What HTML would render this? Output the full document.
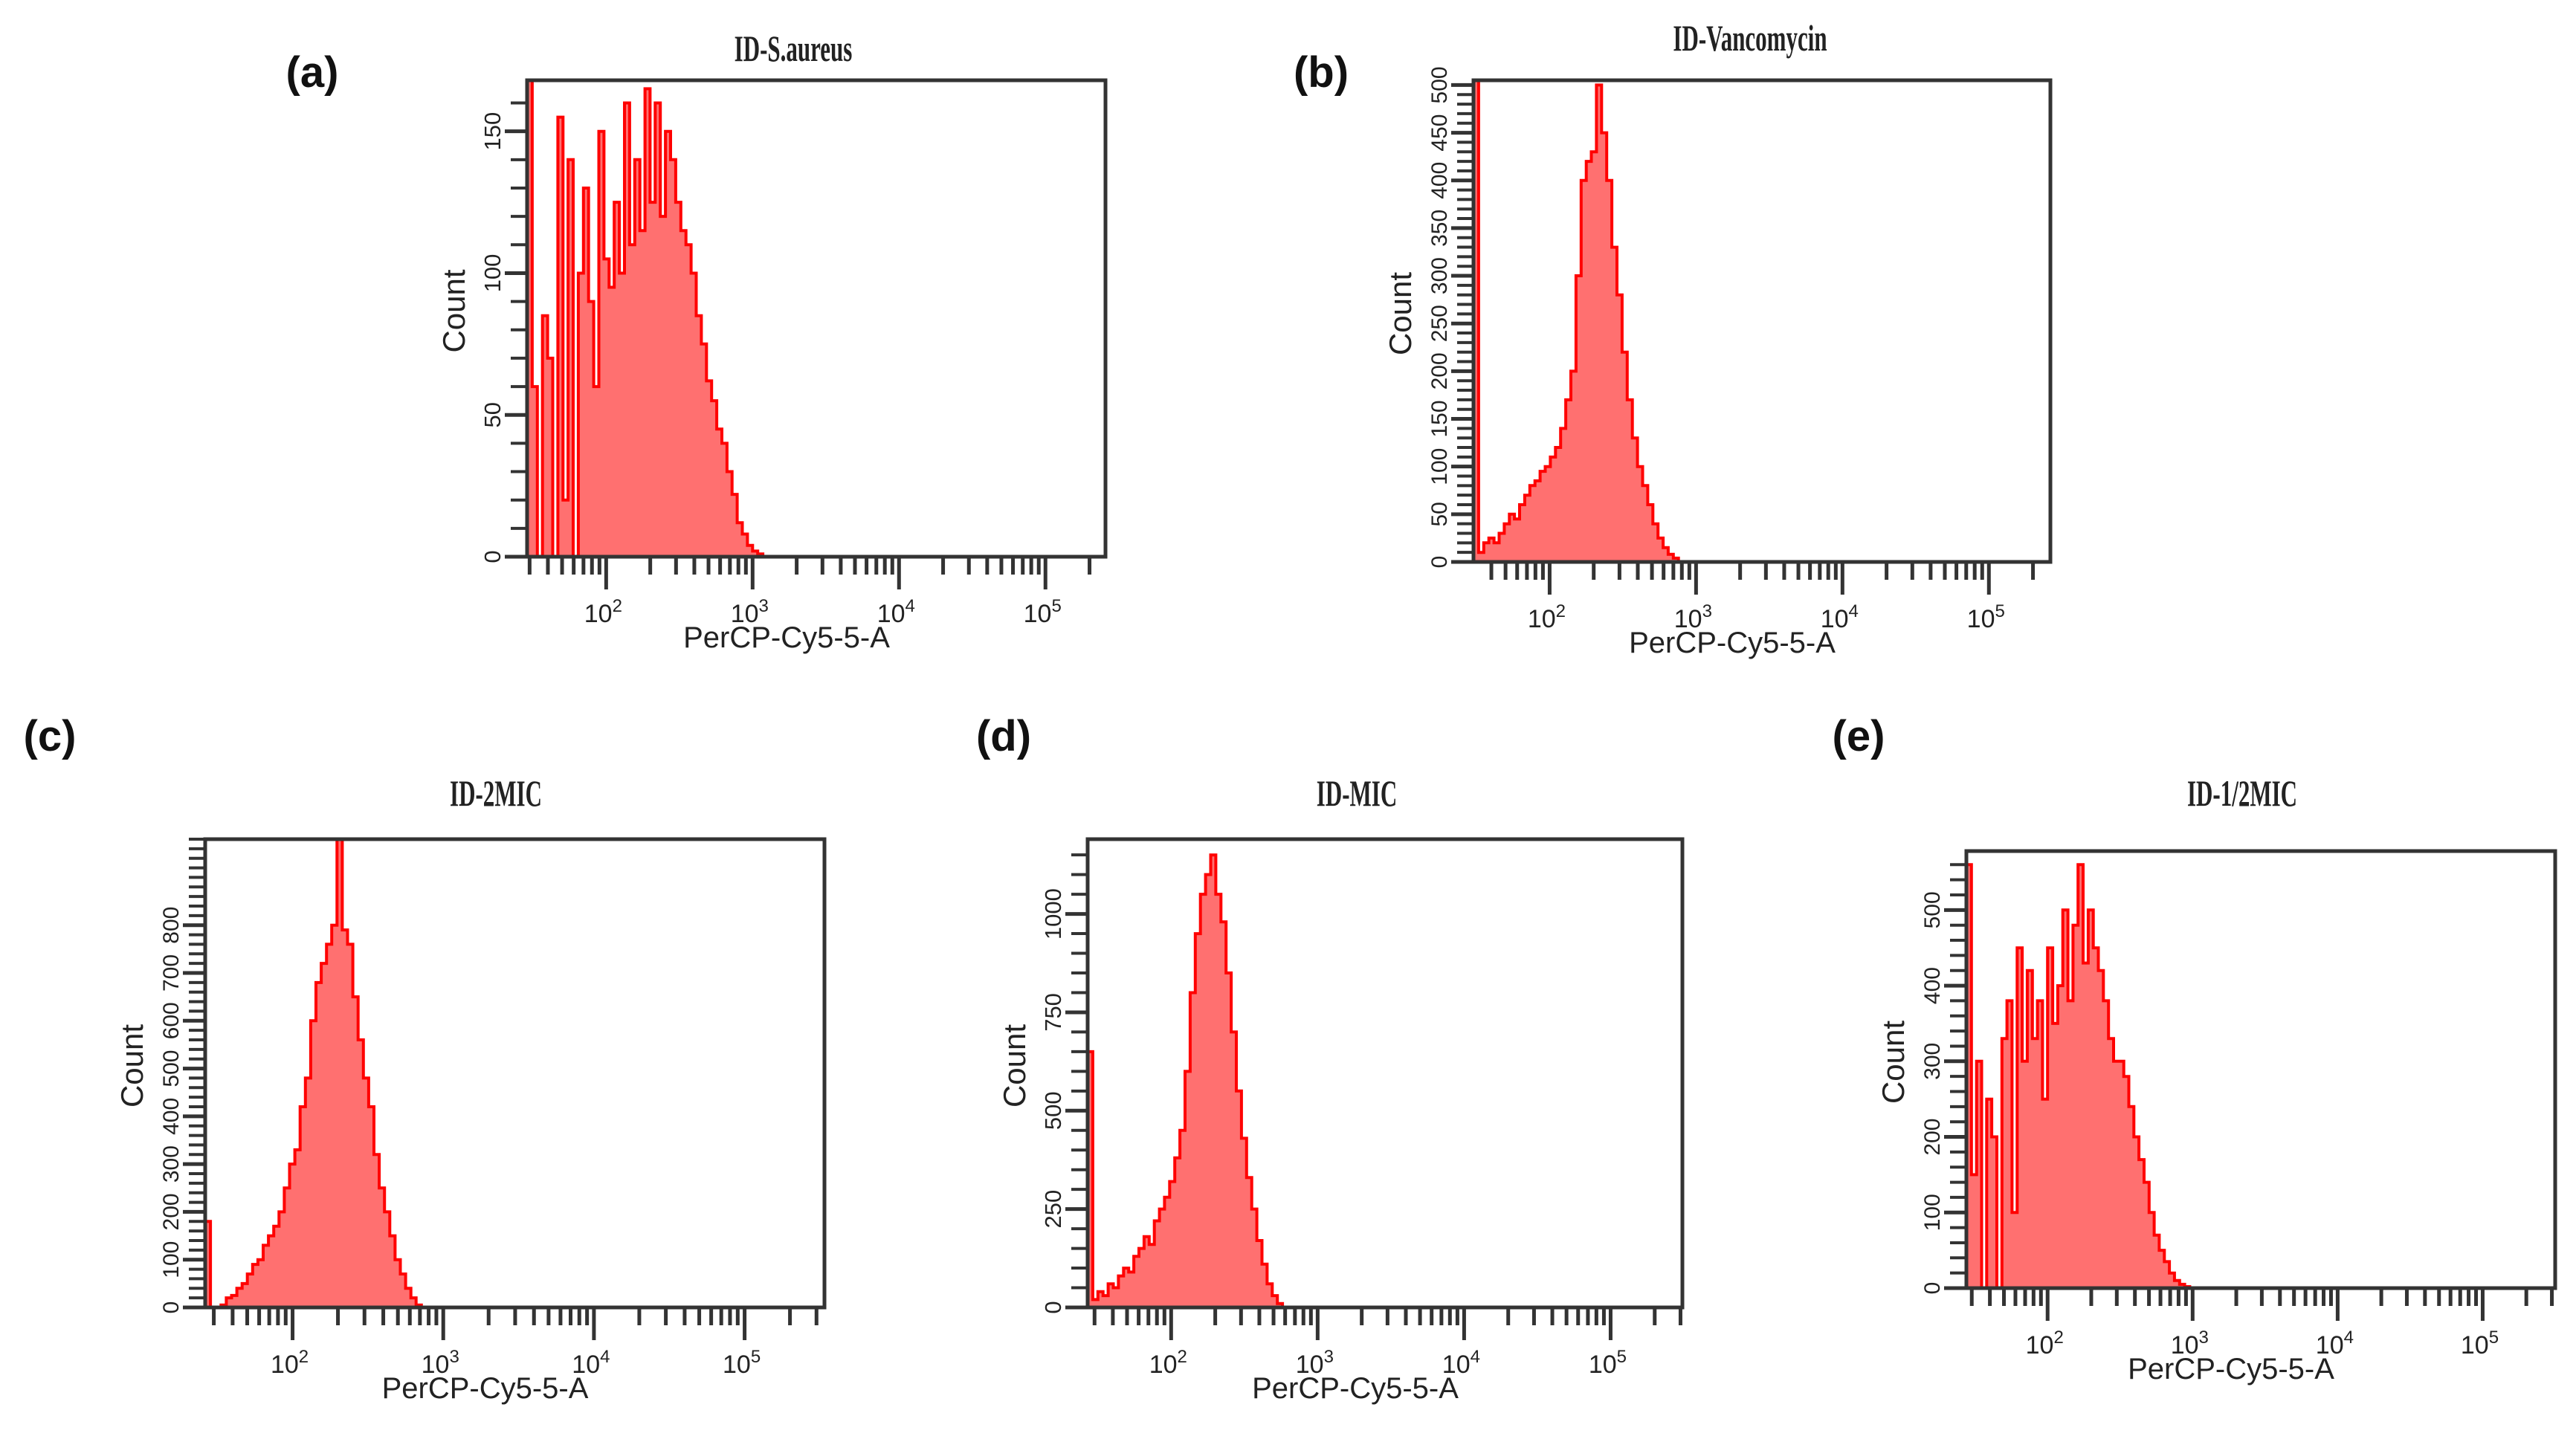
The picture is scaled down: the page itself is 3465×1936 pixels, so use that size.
<!DOCTYPE html>
<html><head><meta charset="utf-8"><style>
html,body{margin:0;padding:0;background:#fff;}
svg{display:block;}
text{font-family:"Liberation Sans",sans-serif;fill:#222;}
.ttl{font-family:"Liberation Serif",serif;font-weight:bold;}
.plab{font-weight:bold;fill:#111;}
</style></head><body>
<svg id="fig" width="3465" height="1936" viewBox="0 0 3465 1936" xmlns="http://www.w3.org/2000/svg"></svg>
<script>
// Histogram counts per log-bin (bin width 0.035 decades), starting at each panel's left edge
const countsA = [170,60,0,85,70,0,155,20,140,0,100,130,90,60,150,105,95,125,100,160,110,140,115,165,125,160,120,150,140,125,115,110,100,85,75,62,55,45,40,30,22,12,8,4,2,1,0];
const countsB = [505,10,20,25,20,30,40,50,45,60,70,80,85,95,100,110,120,140,170,200,300,400,420,430,500,450,400,330,280,220,170,130,100,80,60,40,25,15,8,4,0];
const countsC = [180,0,0,5,20,25,40,50,70,90,100,130,150,170,200,250,300,330,420,480,600,680,720,760,800,980,790,760,650,560,480,420,320,250,200,150,100,70,40,20,5,0];
const countsD = [650,20,40,30,60,50,80,100,90,130,150,180,160,220,250,280,320,380,450,600,800,950,1050,1100,1150,1050,980,850,700,550,430,330,250,170,110,60,30,10,0];
const countsE = [560,150,300,0,250,200,0,330,380,100,450,300,420,330,380,250,450,350,400,500,380,480,560,430,500,450,420,380,330,300,300,280,240,200,170,140,100,70,50,35,20,10,5,2,0];
const yTicksA = [0,50,100,150];
const yTicksB = [0,50,100,150,200,250,300,350,400,450,500];
const yTicksC = [0,100,200,300,400,500,600,700,800];
const yTicksD = [0,250,500,750,1000];
const yTicksE = [0,100,200,300,400,500];
const titles = ["ID-S.aureus","ID-Vancomycin","ID-2MIC","ID-MIC","ID-1/2MIC"];
const letters = ["(a)","(b)","(c)","(d)","(e)"];

const panels = [
 {id:'a',L:709,R:1487,T:108,B:749,xmin:1.46,xmax:5.41,ymax:168,minor:10,counts:countsA,ticks:yTicksA,title:titles[0],tx:1067,ty:78,letter:letters[0],lx:420,ly:117,ylabFs:31},
 {id:'b',L:1982,R:2758,T:108,B:756,xmin:1.48,xmax:5.42,ymax:505,minor:10,counts:countsB,ticks:yTicksB,title:titles[1],tx:2354,ty:64,letter:letters[1],lx:1777,ly:117,ylabFs:30},
 {id:'c',L:276,R:1109,T:1129,B:1759,xmin:1.42,xmax:5.53,ymax:980,minor:20,counts:countsC,ticks:yTicksC,title:titles[2],tx:667,ty:1080,letter:letters[2],lx:67,ly:1010,ylabFs:30},
 {id:'d',L:1463,R:2263,T:1129,B:1759,xmin:1.43,xmax:5.49,ymax:1190,minor:50,counts:countsD,ticks:yTicksD,title:titles[3],tx:1825,ty:1080,letter:letters[3],lx:1350,ly:1010,ylabFs:31},
 {id:'e',L:2645,R:3437,T:1145,B:1733,xmin:1.44,xmax:5.50,ymax:578,minor:20,counts:countsE,ticks:yTicksE,title:titles[4],tx:3016,ty:1080,letter:letters[4],lx:2500,ly:1010,ylabFs:30}
];
const NS='http://www.w3.org/2000/svg';
const svg=document.getElementById('fig');
function mk(tag,attrs,parent){const e=document.createElementNS(NS,tag);for(const k in attrs)e.setAttribute(k,attrs[k]);(parent||svg).appendChild(e);return e;}
const BIN=0.035;
panels.forEach(p=>{
  const g=mk('g',{});
  
  
  const xs=v=>p.L+(v-p.xmin)/(p.xmax-p.xmin)*(p.R-p.L);
  const ys=v=>p.B-v/p.ymax*(p.B-p.T);
  let d='M'+xs(p.xmin)+','+p.B;
  p.counts.forEach((c,i)=>{const x0=xs(p.xmin+i*BIN),x1=xs(p.xmin+(i+1)*BIN);const y=Math.max(ys(Math.min(c,p.ymax)),p.T);d+=' L'+x0.toFixed(1)+','+y.toFixed(1)+' L'+x1.toFixed(1)+','+y.toFixed(1);});
  d+=' L'+xs(p.xmin+p.counts.length*BIN).toFixed(1)+','+p.B+' Z';
  const h=mk('path',{d:d,fill:'#ff7070',stroke:'#ff0000','stroke-width':4,'stroke-linejoin':'miter'},g);
  
  
  const bx=mk('rect',{x:p.L,y:p.T,width:p.R-p.L,height:p.B-p.T,fill:'none',stroke:'#333',"stroke-width":5},g);
  
  
  for(let dec=1;dec<=5;dec++){for(let m=1;m<=9;m++){const lv=dec+Math.log10(m);if(lv<p.xmin||lv>p.xmax)continue;const x=xs(lv);const len=m===1?44:24;mk('line',{x1:x,y1:p.B,x2:x,y2:p.B+len,stroke:'#333','stroke-width':5},g);}}
  for(let dec=2;dec<=5;dec++){const x=xs(dec);const t=mk('text',{x:x-4,y:p.B+88,'font-size':34,'text-anchor':'middle'},g);t.textContent='10';const s=mk('tspan',{dy:-14,'font-size':24},t);s.textContent=String(dec);
    
    }
  const xl=mk('text',{x:(p.L+p.R)/2-40,y:p.B+122,'font-size':40,'text-anchor':'middle'},g);xl.textContent='PerCP-Cy5-5-A';
  
  
  for(let v=0;v<=p.ymax;v+=p.minor){const y=ys(v);mk('line',{x1:p.L-22,y1:y,x2:p.L,y2:y,stroke:'#333','stroke-width':4},g);}
  p.ticks.forEach(v=>{const y=ys(v);mk('line',{x1:p.L-30,y1:y,x2:p.L,y2:y,stroke:'#333','stroke-width':5},g);
    const t=mk('text',{x:0,y:0,'font-size':p.ylabFs,'text-anchor':'middle',transform:'translate('+(p.L-36)+','+y+') rotate(-90)'},g);t.textContent=String(v);
    
    });
  const yl=mk('text',{x:0,y:0,'font-size':42,'text-anchor':'middle',transform:'translate('+(p.L-84)+','+((p.T+p.B)/2-10)+') rotate(-90)'},g);yl.textContent='Count';
  
  
  const tt=mk('text',{x:p.tx,y:p.ty+4,'font-size':50,'text-anchor':'middle','class':'ttl',transform:'translate('+p.tx+',0) scale(0.62,1) translate('+(-p.tx)+',0)'},g);tt.textContent=p.title;
  
  
  const pl=mk('text',{x:p.lx,y:p.ly,'font-size':58,'text-anchor':'middle','class':'plab'},g);pl.textContent=p.letter;
  
  
});
</script>
</body></html>
